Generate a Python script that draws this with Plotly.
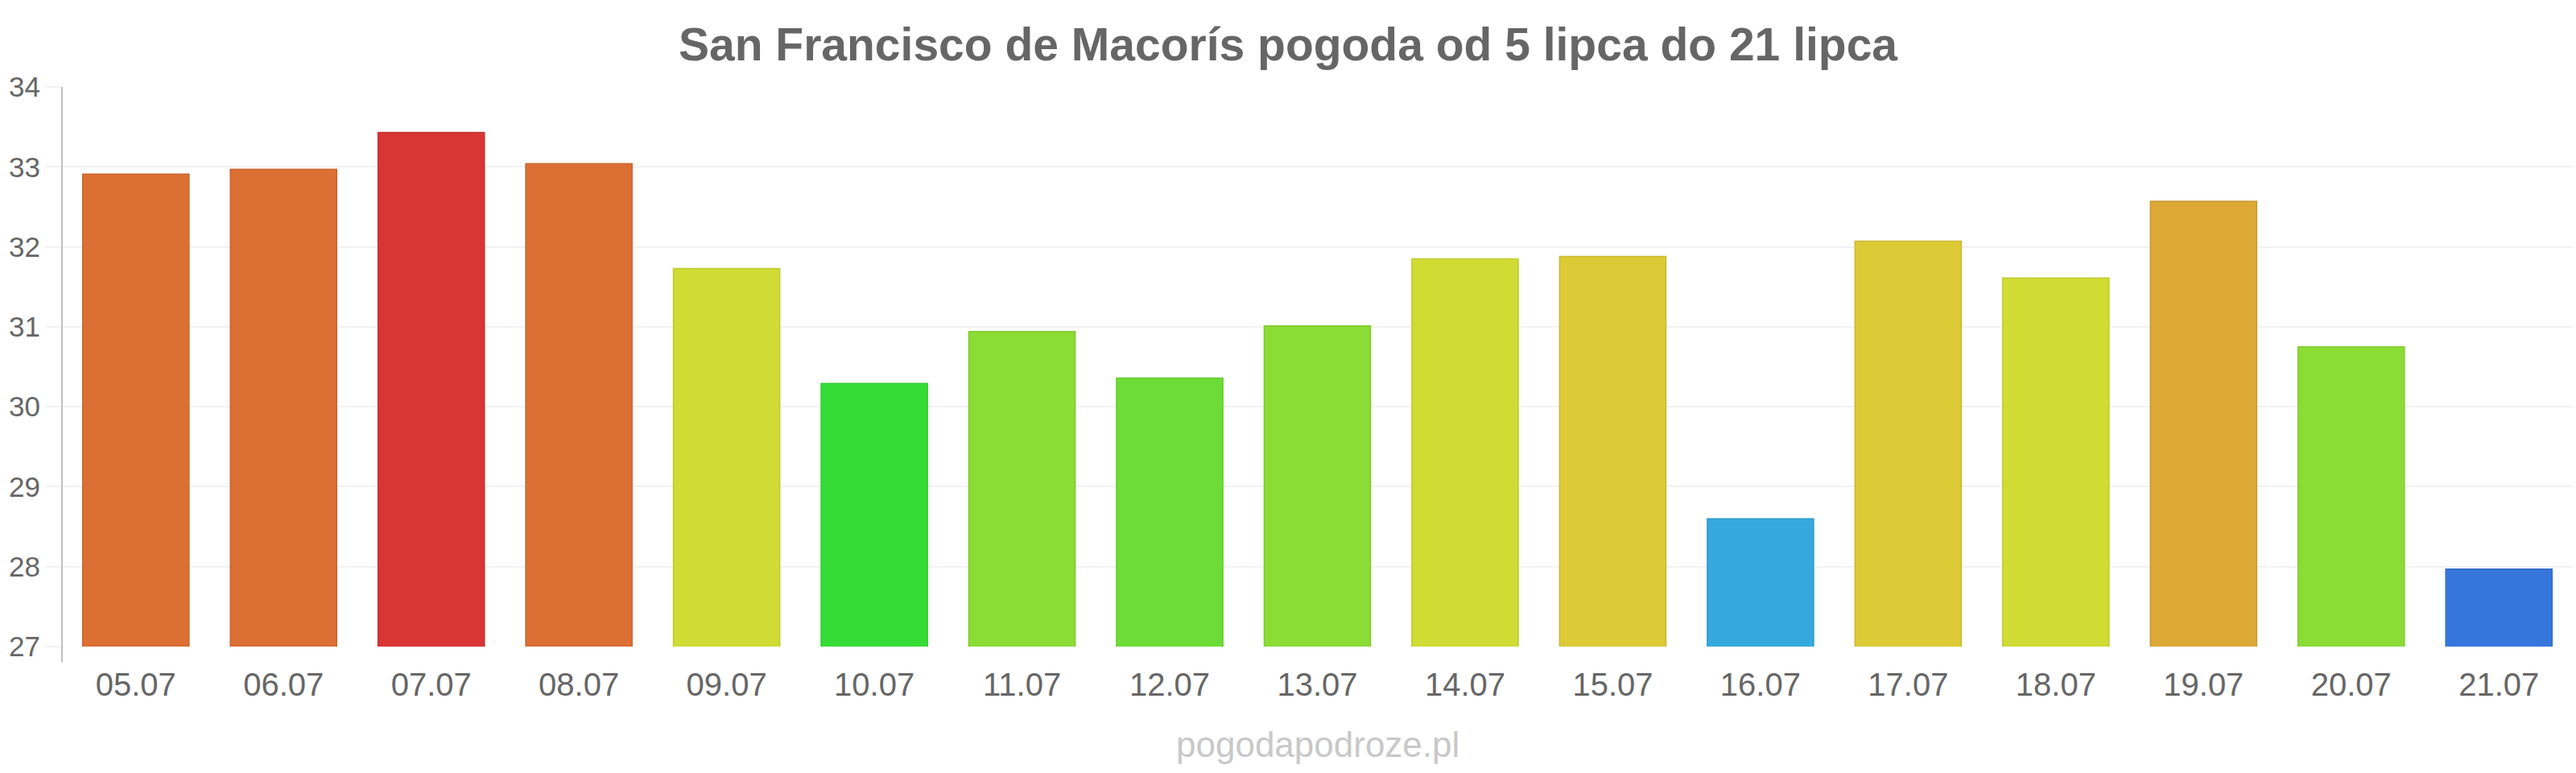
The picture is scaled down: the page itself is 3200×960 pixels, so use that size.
import plotly.graph_objects as go

days = ["05.07", "06.07", "07.07", "08.07", "09.07", "10.07", "11.07", "12.07", "13.07",
        "14.07", "15.07", "16.07", "17.07", "18.07", "19.07", "20.07", "21.07"]
temps = [32.91, 32.97, 33.43, 33.04, 31.73, 30.29, 30.94, 30.36, 31.01,
         31.85, 31.88, 28.60, 32.07, 31.61, 32.57, 30.75, 27.97]
colors = ["#dc6f34", "#dc6f34", "#d93535", "#dc6f34", "#d0dc33", "#36dc36", "#8cdc36", "#6edc36", "#8cdc36",
          "#d0dc33", "#dccb36", "#36a9dc", "#dccb36", "#d0dc33", "#dca836", "#8cdc36", "#3676dc"]
borders = ["#c9652f", "#c9652f", "#c73030", "#c9652f", "#bec92e", "#31c931", "#80c931", "#64c931", "#80c931",
           "#bec92e", "#c9b931", "#319ac9", "#c9b931", "#bec92e", "#c99931", "#80c931", "#316cc9"]

title_text = "San Francisco de Macorís pogoda od 5 lipca do 21 lipca"
y_ticks = [27, 28, 29, 30, 31, 32, 33, 34]

FONT = "Liberation Sans, Arial, sans-serif"

fig = go.Figure(go.Bar(
    x=days, y=temps,
    marker=dict(color=colors, line=dict(color=borders, width=1.5)),
    hoverinfo="x+y",
))

fig.update_layout(
    width=3200, height=960,
    margin=dict(l=77, r=4, t=108, b=157),
    paper_bgcolor="white", plot_bgcolor="white",
    bargap=0.28,
    showlegend=False,
    title=dict(text=title_text, x=0.5, xref="container", xanchor="center",
               y=1 - 55 / 960, yref="container", yanchor="middle",
               font=dict(family=FONT, size=57, color="#666666", weight="bold")),
    font=dict(family=FONT, color="#666666"),
)

fig.update_xaxes(
    type="category", showgrid=False, showline=False, zeroline=False,
    tickfont=dict(family=FONT, size=40, color="#666666"),
    ticks="", ticklabelstandoff=20,
)
fig.update_yaxes(
    range=[27, 34], tickvals=y_ticks, ticktext=[str(v) for v in y_ticks],
    showgrid=True, gridcolor="#f2f2f2", gridwidth=2, zeroline=False,
    showline=False,
    tickfont=dict(family=FONT, size=35, color="#666666"),
    ticks="outside", ticklen=19, tickcolor="#f2f2f2", tickwidth=2,
    ticklabelstandoff=0,
)

# y axis line (extends slightly below the plot bottom)
fig.add_shape(type="line", xref="paper", yref="paper", x0=0, x1=0, y0=-0.028, y1=1,
              line=dict(color="#c0c0c0", width=2))

fig.add_annotation(text="pogodapodroze.pl", xref="paper", yref="paper", x=0.5, y=-0.1755,
                   xanchor="center", yanchor="middle", showarrow=False,
                   font=dict(family=FONT, size=44, color="#c8c8c8"))

fig.write_html("out.html")
